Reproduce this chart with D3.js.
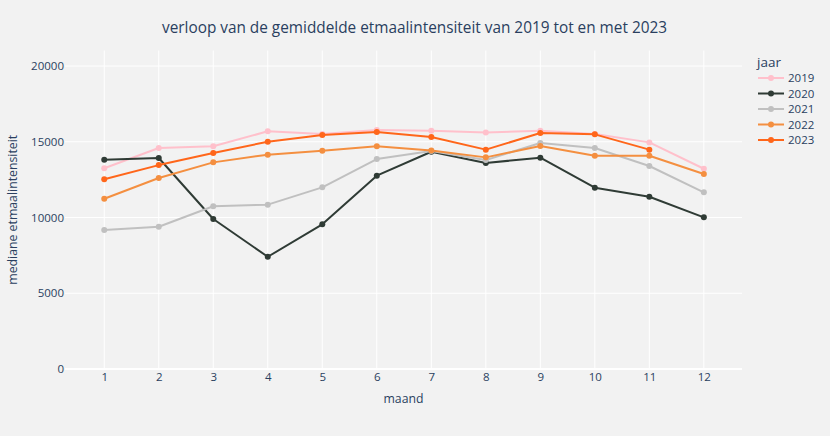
<!DOCTYPE html>
<html>
<head>
<meta charset="utf-8">
<script src="https://cdn.jsdelivr.net/npm/d3@7"></script>
<style>
  html, body { margin: 0; padding: 0; background: #f2f2f2; }
  svg { display: block; }
  text { font-family: "Open Sans", sans-serif; fill: #2a3f5f; }
</style>
</head>
<body>
<svg id="chart" width="830" height="436"></svg>
<script>
const months = [1, 2, 3, 4, 5, 6, 7, 8, 9, 10, 11, 12];
const years = ["2019", "2020", "2021", "2022", "2023"];
const v2019 = [13250, 14590, 14700, 15690, 15510, 15770, 15730, 15620, 15730, 15510, 14960, 13220];
const v2020 = [13810, 13930, 9900, 7410, 9550, 12760, 14340, 13600, 13950, 11970, 11370, 10010];
const v2021 = [9170, 9390, 10740, 10850, 11990, 13860, 14390, 13790, 14920, 14590, 13400, 11660];
const v2022 = [11240, 12610, 13640, 14150, 14410, 14700, 14430, 13970, 14720, 14080, 14080, 12870];
const v2023 = [12520, 13460, 14260, 15000, 15440, 15640, 15310, 14480, 15580, 15490, 14480];
const seriesValues = [v2019, v2020, v2021, v2022, v2023];
const colors = ["#ffc0cb", "#2f3b35", "#c0c0c0", "#f48f40", "#ff661a"];
const yTicks = [0, 5000, 10000, 15000, 20000];

const svg = d3.select("#chart");
const W = 830, H = 436;
const plot = { left: 65, right: 742, top: 50.5, bottom: 369 };

svg.append("rect").attr("width", W).attr("height", H).attr("fill", "#f2f2f2");

const x = d3.scaleLinear().domain([0.28, 12.7]).range([plot.left, plot.right]);
const y = d3.scaleLinear().domain([0, 21025]).range([plot.bottom, plot.top]);

// grid
const g = svg.append("g");
g.selectAll("line.vx").data(months).enter().append("line")
  .attr("x1", d => x(d)).attr("x2", d => x(d))
  .attr("y1", plot.top).attr("y2", plot.bottom)
  .attr("stroke", "#ffffff").attr("stroke-width", 1);
g.selectAll("line.hy").data(yTicks.filter(d => d > 0)).enter().append("line")
  .attr("x1", plot.left).attr("x2", plot.right)
  .attr("y1", d => y(d)).attr("y2", d => y(d))
  .attr("stroke", "#ffffff").attr("stroke-width", 1);
// zero line
g.append("line").attr("x1", plot.left).attr("x2", plot.right)
  .attr("y1", y(0)).attr("y2", y(0)).attr("stroke", "#ffffff").attr("stroke-width", 2);

// axes via d3
const xAxis = d3.axisBottom(x).tickValues(months).tickSize(0).tickPadding(0).tickFormat(d3.format("d"));
const xg = svg.append("g").attr("transform", `translate(0,${plot.bottom})`).call(xAxis);
xg.select(".domain").remove();
xg.selectAll("text").attr("dy", "12px").attr("font-size", 11.5).attr("fill", "#2a3f5f")
  .style("font-family", '"Open Sans", sans-serif');

const yAxis = d3.axisLeft(y).tickValues(yTicks).tickSize(0).tickPadding(1).tickFormat(d3.format("d"));
const yg = svg.append("g").attr("transform", `translate(${plot.left},0)`).call(yAxis);
yg.select(".domain").remove();
yg.selectAll("text").attr("font-size", 11.5).attr("fill", "#2a3f5f")
  .style("font-family", '"Open Sans", sans-serif');

// lines
const line = d3.line().x((d, i) => x(months[i])).y(d => y(d));
years.forEach((yr, k) => {
  const vals = seriesValues[k];
  const sg = svg.append("g");
  sg.append("path").datum(vals).attr("d", line)
    .attr("fill", "none").attr("stroke", colors[k]).attr("stroke-width", 2)
    .attr("stroke-linejoin", "round");
  sg.selectAll("circle").data(vals).enter().append("circle")
    .attr("cx", (d, i) => x(months[i])).attr("cy", d => y(d)).attr("r", 3)
    .attr("fill", colors[k]);
});

// title
svg.append("text").attr("x", 414.5).attr("y", 33).attr("text-anchor", "middle")
  .attr("font-size", 16).attr("textLength", 505).attr("lengthAdjust", "spacingAndGlyphs")
  .text("verloop van de gemiddelde etmaalintensiteit van 2019 tot en met 2023");

// axis titles
svg.append("text").attr("x", (plot.left + plot.right) / 2).attr("y", 403).attr("text-anchor", "middle")
  .attr("font-size", 13).attr("textLength", 40).attr("lengthAdjust", "spacingAndGlyphs").text("maand");
svg.append("text").attr("transform", `translate(17,${(plot.top + plot.bottom) / 2}) rotate(-90)`)
  .attr("text-anchor", "middle").attr("font-size", 13).attr("textLength", 150)
  .attr("lengthAdjust", "spacingAndGlyphs").text("mediane etmaalintensiteit");

// legend
const lg = svg.append("g").attr("transform", "translate(757,0)");
lg.append("text").attr("x", 0).attr("y", 67).attr("font-size", 13.5).text("jaar");
years.forEach((yr, k) => {
  const yy = 78 + k * 15.5;
  lg.append("line").attr("x1", 1).attr("x2", 27).attr("y1", yy).attr("y2", yy)
    .attr("stroke", colors[k]).attr("stroke-width", 2);
  lg.append("circle").attr("cx", 14).attr("cy", yy).attr("r", 3).attr("fill", colors[k]);
  lg.append("text").attr("x", 31).attr("y", yy + 4).attr("font-size", 11.5).text(yr);
});
</script>
</body>
</html>
